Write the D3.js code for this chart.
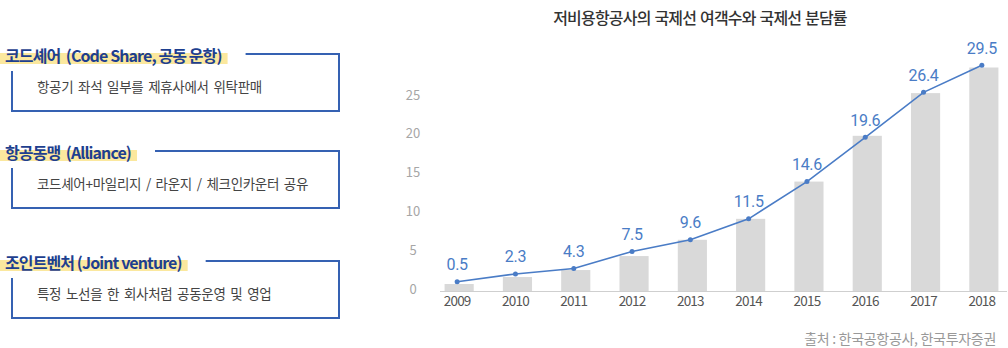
<!DOCTYPE html>
<html><head><meta charset="utf-8">
<script src="https://cdn.jsdelivr.net/npm/d3@7"></script>
<style>
html,body{margin:0;padding:0;background:#fff;}
svg{display:block;}
</style></head>
<body>
<svg id="c" width="1008" height="348"></svg>
<script>
// ---- data ----
const years = ["2009","2010","2011","2012","2013","2014","2015","2016","2017","2018"];
const passengers = [0.9, 1.8, 2.7, 4.5, 6.6, 9.3, 14.1, 20.0, 25.5, 28.8];
const shareLevel = [1.2, 2.2, 2.9, 5.1, 6.6, 9.3, 14.1, 19.8, 25.6, 29.1];
const shareLabels = ["0.5","2.3","4.3","7.5","9.6","11.5","14.6","19.6","26.4","29.5"];
const yTicks = [0, 5, 10, 15, 20, 25];
const title = "저비용항공사의 국제선 여객수와 국제선 분담률";
const source = "출처 : 한국공항공사, 한국투자증권";
const headings = ["코드셰어  (Code Share, 공동 운항)", "항공동맹  (Alliance)", "조인트벤처 (Joint venture)"];
const descriptions = ["항공기 좌석 일부를 제휴사에서 위탁판매", "코드셰어+마일리지 / 라운지 / 체크인카운터 공유", "특정 노선을 한 회사처럼 공동운영 및 영업"];

const svg = d3.select("#c");
const FONT = "'Noto Sans CJK KR','Noto Sans',sans-serif";

// ---- left panel ----
const boxTop = [55, 152, 262];
const left = svg.append("g");
headings.forEach((h, i) => {
  const y = boxTop[i];
  const g = left.append("g");
  const t = g.append("text")
    .attr("x", 5).attr("y", y)
    .attr("dominant-baseline", "central")
    .attr("font-family", FONT).attr("font-weight", 700)
    .attr("font-size", 16).attr("letter-spacing", -0.9)
    .style("white-space", "pre")
    .attr("fill", "#1e3f8f").text(h);
  const w = t.node().getComputedTextLength();
  g.insert("rect", "text")
    .attr("x", 0).attr("y", y - 2).attr("width", w + 11).attr("height", 11)
    .attr("fill", "#fbe89e");
  const lineStart = w + 29;
  left.append("path")
    .attr("d", `M${lineStart},${y - 1} H339 V${y + 56} H12 V${y + 16}`)
    .attr("fill", "none").attr("stroke", "#3561b2").attr("stroke-width", 2);
  left.append("text")
    .attr("x", 37).attr("y", y + 31)
    .attr("dominant-baseline", "central")
    .attr("font-family", FONT).attr("font-size", 13.5).attr("letter-spacing", -0.3)
    .attr("word-spacing", 2)
    .attr("fill", "#444").text(descriptions[i]);
});

// ---- chart ----
const x = d3.scaleBand().domain(years).range([430, 1013]).paddingInner(0.5).paddingOuter(0.25);
const y = d3.scaleLinear().domain([0, 25]).range([291, 97]);

svg.append("text")
  .attr("x", 700).attr("y", 17).attr("text-anchor", "middle")
  .attr("dominant-baseline", "central")
  .attr("font-family", FONT).attr("font-size", 16).attr("font-weight", 500)
  .attr("letter-spacing", -0.8).attr("word-spacing", 1).attr("fill", "#333").text(title);

// y axis labels
const yAxis = d3.axisLeft(y).tickValues(yTicks).tickSize(0).tickPadding(0);
const ya = svg.append("g").attr("transform", "translate(419,-2)").call(yAxis);
ya.select(".domain").remove();
ya.selectAll("text").attr("font-family", FONT).attr("font-size", 13)
  .attr("fill", "#a6a6a6").attr("text-anchor", "middle").attr("x", -6);

// bars
svg.append("g").selectAll("rect").data(years).join("rect")
  .attr("x", d => x(d)).attr("width", x.bandwidth())
  .attr("y", (d, i) => y(passengers[i]))
  .attr("height", (d, i) => y(0) - y(passengers[i]))
  .attr("fill", "#d9d9d9");

// baseline + x axis
const xAxis = d3.axisBottom(x).tickSize(0).tickPadding(5);
const xa = svg.append("g").attr("transform", `translate(0,${y(0)})`).call(xAxis);
xa.select(".domain").attr("d", "M440,0.5H1007").attr("stroke", "#cfcfcf");
xa.selectAll("text").attr("font-family", FONT).attr("font-size", 13.5)
  .attr("letter-spacing", -0.8).attr("fill", "#555").attr("dx", -2);

// line
const cx = d => x(d) + x.bandwidth() / 2 - 2;
const line = d3.line().x((d, i) => cx(years[i])).y(d => y(d));
svg.append("path").datum(shareLevel).attr("d", line)
  .attr("fill", "none").attr("stroke", "#4a7cc6").attr("stroke-width", 1.6);
svg.append("g").selectAll("circle").data(shareLevel).join("circle")
  .attr("cx", (d, i) => cx(years[i])).attr("cy", d => y(d)).attr("r", 2.5)
  .attr("fill", "#4a7cc6");
svg.append("g").selectAll("text").data(shareLabels).join("text")
  .attr("x", (d, i) => cx(years[i])).attr("y", (d, i) => y(shareLevel[i]) - 17)
  .attr("text-anchor", "middle").attr("dominant-baseline", "central")
  .attr("font-family", "Roboto, 'Noto Sans', sans-serif").attr("font-size", 16)
  .attr("letter-spacing", -0.3).attr("fill", "#4a7cc6").text(d => d);

// source
svg.append("text")
  .attr("x", 996).attr("y", 338).attr("text-anchor", "end")
  .attr("dominant-baseline", "central")
  .attr("font-family", FONT).attr("font-size", 14).attr("letter-spacing", -0.3)
  .attr("fill", "#999").text(source);
</script>
</body></html>
